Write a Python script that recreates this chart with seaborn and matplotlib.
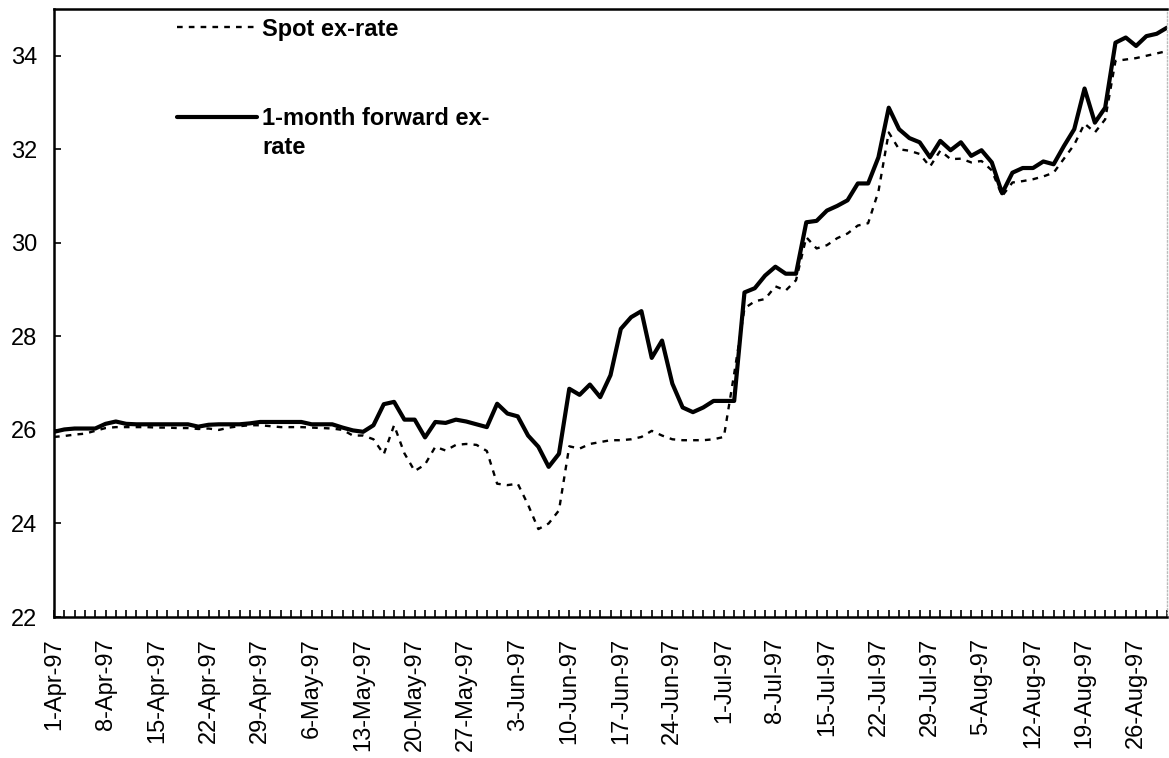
import numpy as np
import pandas as pd
import matplotlib
matplotlib.use("Agg")
import matplotlib.pyplot as plt
import seaborn as sns

# Business days 1-Apr-97 .. 29-Aug-97 (category axis)
dates = pd.bdate_range("1997-04-01", "1997-08-29")
date_labels = [f"{d.day}-{d.strftime('%b')}-{d.strftime('%y')}" for d in dates]

spot = [25.85, 25.87, 25.90, 25.92, 25.98, 26.04, 26.06, 26.06, 26.06, 26.06,
        26.05, 26.05, 26.04, 26.04, 26.02, 26.03, 26.00, 26.05, 26.08, 26.10,
        26.10, 26.08, 26.06, 26.06, 26.06, 26.05, 26.04, 26.03, 26.00, 25.88,
        25.88, 25.80, 25.48, 26.10, 25.50, 25.12, 25.26, 25.64, 25.56, 25.68,
        25.70, 25.68, 25.55, 24.85, 24.82, 24.85, 24.40, 23.88, 24.00, 24.28,
        25.65, 25.60, 25.70, 25.74, 25.78, 25.78, 25.80, 25.85, 25.98, 25.88,
        25.80, 25.78, 25.78, 25.78, 25.80, 25.85, 27.20, 28.60, 28.75, 28.80,
        29.07, 28.98, 29.20, 30.12, 29.88, 29.95, 30.10, 30.20, 30.37, 30.42,
        31.10, 32.36, 32.00, 31.97, 31.90, 31.63, 31.97, 31.79, 31.80, 31.72,
        31.75, 31.55, 31.00, 31.29, 31.32, 31.36, 31.42, 31.50, 31.80, 32.10,
        32.55, 32.36, 32.64, 33.89, 33.92, 33.95, 34.00, 34.05, 34.10]

forward = [25.96, 26.01, 26.03, 26.03, 26.03, 26.13, 26.18, 26.13, 26.12, 26.12,
           26.12, 26.12, 26.12, 26.12, 26.07, 26.11, 26.12, 26.12, 26.12, 26.14,
           26.17, 26.17, 26.17, 26.17, 26.17, 26.12, 26.12, 26.12, 26.05, 25.99,
           25.96, 26.10, 26.55, 26.60, 26.22, 26.22, 25.84, 26.17, 26.15, 26.22,
           26.18, 26.12, 26.06, 26.56, 26.35, 26.29, 25.88, 25.64, 25.21, 25.49,
           26.88, 26.75, 26.97, 26.70, 27.17, 28.16, 28.41, 28.54, 27.54, 27.91,
           26.99, 26.48, 26.38, 26.48, 26.62, 26.62, 26.62, 28.94, 29.03, 29.30,
           29.49, 29.34, 29.34, 30.44, 30.47, 30.69, 30.79, 30.91, 31.27, 31.27,
           31.83, 32.89, 32.43, 32.24, 32.15, 31.83, 32.18, 31.98, 32.15, 31.86,
           31.98, 31.72, 31.06, 31.50, 31.60, 31.60, 31.74, 31.68, 32.07, 32.43,
           33.30, 32.57, 32.89, 34.28, 34.39, 34.21, 34.42, 34.47, 34.60]

y_ticks = [22, 24, 26, 28, 30, 32, 34]
series_names = ["Spot ex-rate", "1-month forward ex-\nrate"]

sns.set_style("white")
plt.rcParams['font.family'] = ['Liberation Sans', 'DejaVu Sans']
plt.rcParams['text.color'] = 'black'
plt.rcParams['xtick.color'] = 'black'
plt.rcParams['ytick.color'] = 'black'

W, H = 1169, 758
fig = plt.figure(figsize=(W / 100, H / 100), dpi=100)
ax = fig.add_axes([54 / W, 1 - 617 / H, (1167 - 54) / W, (617 - 9) / H])

pos = np.arange(len(dates))
df = pd.DataFrame({"pos": pos, "spot": spot, "forward": forward})

sns.lineplot(data=df, x="pos", y="spot", ax=ax, color="black", lw=1.7,
             linestyle=(0, (2.4, 2.6)), label=series_names[0])
sns.lineplot(data=df, x="pos", y="forward", ax=ax, color="black", lw=3.0,
             label=series_names[1])

ax.set_xlim(0, len(dates) - 1)
ax.set_ylim(22, 35)
ax.set_xlabel("")
ax.set_ylabel("")

ax.set_xticks(pos[::5])
ax.set_xticklabels(date_labels[::5], rotation=90)
ax.set_xticks(pos, minor=True)
ax.set_yticks(y_ticks)
ax.set_yticklabels([str(v) for v in y_ticks])

ax.tick_params(axis='x', which='both', direction='in', length=5, width=1.2,
               color='black', labelcolor='black', pad=15, labelsize=17,
               bottom=True, top=False)
ax.tick_params(axis='y', which='major', direction='in', length=5, width=1.2,
               color='black', labelcolor='black', pad=12, labelsize=17,
               left=True, right=False)

for side in ['left', 'bottom', 'top']:
    ax.spines[side].set_color('black')
    ax.spines[side].set_linewidth(1.8)
ax.spines['right'].set_color('#bbbbbb')
ax.spines['right'].set_linewidth(1.0)
ax.spines['right'].set_linestyle(':')

leg = ax.legend(loc='upper left', bbox_to_anchor=(0.1105, 0.986), frameon=False,
                prop={'weight': 'bold', 'size': 17}, handlelength=3.4,
                handletextpad=0.2, labelspacing=2.8, borderpad=0, borderaxespad=0)
for t in leg.get_texts():
    t.set_linespacing(1.38)
    t.set_color('black')
lines = leg.get_lines()
yd = np.asarray(lines[1].get_ydata(), dtype=float)
lines[1].set_ydata(yd + 11.8)

fig.savefig("out.png", dpi=100, facecolor='white')
